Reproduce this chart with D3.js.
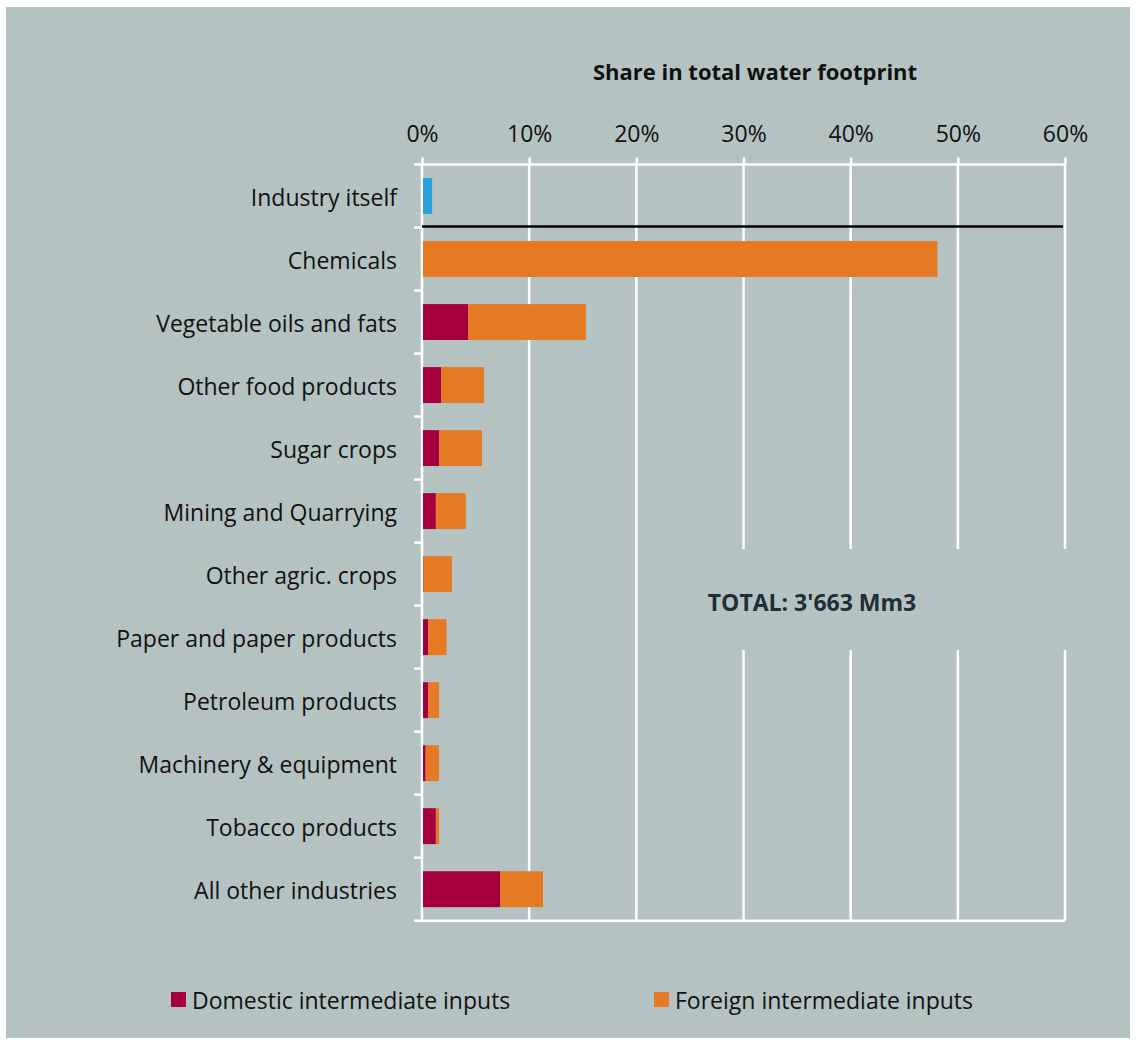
<!DOCTYPE html>
<html>
<head>
<meta charset="utf-8">
<script src="https://cdn.jsdelivr.net/npm/d3@7"></script>
<style>
  html, body { margin: 0; padding: 0; background: #ffffff; }
  svg { display: block; }
  text { font-family: "Open Sans", Lato, sans-serif; }
</style>
</head>
<body>
<svg id="chart" width="1136" height="1044"></svg>
<script>
// Categories (top to bottom)
const categories = [
  "Industry itself",
  "Chemicals",
  "Vegetable oils and fats",
  "Other food products",
  "Sugar crops",
  "Mining and Quarrying",
  "Other agric. crops",
  "Paper and paper products",
  "Petroleum products",
  "Machinery & equipment",
  "Tobacco products",
  "All other industries"
];

// Share of total water footprint (fractions)
const ownShare      = [0.0085, 0, 0, 0, 0, 0, 0, 0, 0, 0, 0, 0];
const domesticShare = [0, 0, 0.042, 0.017, 0.015, 0.012, 0.0005, 0.005, 0.005, 0.0025, 0.012, 0.072];
const foreignShare  = [0, 0.480, 0.110, 0.040, 0.040, 0.028, 0.0265, 0.017, 0.010, 0.0125, 0.003, 0.040];

const xTicks = [0, 0.1, 0.2, 0.3, 0.4, 0.5, 0.6];
const seriesNames = ["Domestic intermediate inputs", "Foreign intermediate inputs"];
const totalLabel = "TOTAL: 3'663 Mm3";
const axisTitle = "Share in total water footprint";

const colors = { own: "#29a3d8", domestic: "#a3003d", foreign: "#e67a24" };
const bg = "#b4c3c2";
const labelFont = "23px";

const svg = d3.select("#chart");

// panel background
svg.append("rect").attr("x", 6).attr("y", 7).attr("width", 1124).attr("height", 1031).attr("fill", bg);

const x = d3.scaleLinear().domain([0, 0.6]).range([422, 1065]);
const y = d3.scaleBand().domain(categories).range([164.5, 920.7]).paddingInner(0.43).paddingOuter(0.215);
const yEdges = d3.scaleBand().domain(categories).range([164.5, 920.7]);

// vertical gridlines
svg.append("g").selectAll("line").data(xTicks.slice(1)).join("line")
  .attr("x1", d => x(d)).attr("x2", d => x(d))
  .attr("y1", 164.5).attr("y2", 920.7)
  .attr("stroke", "#ffffff").attr("stroke-width", 2.5);

// bottom border line
svg.append("line").attr("x1", 414).attr("x2", x(0.6)).attr("y1", 920.7).attr("y2", 920.7)
  .attr("stroke", "#ffffff").attr("stroke-width", 2.5);

// top axis
const xAxis = d3.axisTop(x).tickValues(xTicks).tickFormat(d3.format(".0%")).tickSize(7).tickPadding(9);
const gx = svg.append("g").attr("transform", "translate(0,164.5)").call(xAxis);
gx.select(".domain").attr("stroke", "#ffffff").attr("stroke-width", 2.5).attr("d", `M414,0H${x(0.6)}`);
gx.selectAll(".tick line").attr("stroke", "#ffffff").attr("stroke-width", 2.5);
gx.selectAll(".tick text").attr("fill", "#111").style("font-size", labelFont).style("font-family", "'Open Sans', sans-serif")
  .attr("dy", "-0.3em");

// left axis: category labels with ticks on band edges
const yAxis = d3.axisLeft(y).tickSize(0).tickPadding(25);
const gy = svg.append("g").attr("transform", `translate(${x(0)},0)`).call(yAxis);
gy.select(".domain").attr("stroke", "#ffffff").attr("stroke-width", 2.5).attr("d", "M0,164.5V920.7");
gy.selectAll(".tick text").attr("fill", "#111").style("font-size", labelFont).style("font-family", "'Open Sans', sans-serif")
  .attr("dy", "0.42em");
svg.append("g").selectAll("line").data(categories.slice(1)).join("line")
  .attr("x1", 414).attr("x2", x(0))
  .attr("y1", d => yEdges(d)).attr("y2", d => yEdges(d))
  .attr("stroke", "#ffffff").attr("stroke-width", 2.5);

// box behind the total annotation
svg.append("rect").attr("x", 700).attr("y", 549).attr("width", 378).attr("height", 101).attr("fill", bg);
svg.append("text").attr("x", 812).attr("y", 611).attr("text-anchor", "middle")
  .attr("fill", "#1f2e37").style("font-size", "23px").style("font-weight", "bold").text(totalLabel);

// bars
const rows = categories.map((c, i) => ({ c, own: ownShare[i], dom: domesticShare[i], frn: foreignShare[i] }));
const bars = svg.append("g");
bars.selectAll("rect.own").data(rows.filter(r => r.own > 0)).join("rect")
  .attr("x", x(0) + 1).attr("y", d => y(d.c)).attr("height", y.bandwidth())
  .attr("width", d => x(d.own) - x(0)).attr("fill", colors.own);
bars.selectAll("rect.dom").data(rows.filter(r => r.dom > 0)).join("rect")
  .attr("x", x(0) + 1).attr("y", d => y(d.c)).attr("height", y.bandwidth())
  .attr("width", d => x(d.dom) - x(0)).attr("fill", colors.domestic);
bars.selectAll("rect.frn").data(rows.filter(r => r.frn > 0)).join("rect")
  .attr("x", d => x(d.dom) + 1).attr("y", d => y(d.c)).attr("height", y.bandwidth())
  .attr("width", d => x(d.dom + d.frn) - x(d.dom)).attr("fill", colors.foreign);

// separator between the industry's own use and its inputs
svg.append("line").attr("x1", x(0)).attr("x2", 1063)
  .attr("y1", yEdges(categories[1]) - 1).attr("y2", yEdges(categories[1]) - 1)
  .attr("stroke", "#000").attr("stroke-width", 2.5);

// axis title
svg.append("text").attr("x", 755).attr("y", 80).attr("text-anchor", "middle")
  .attr("fill", "#111").style("font-size", "22px").style("font-weight", "bold").text(axisTitle);

// legend
const legend = svg.append("g");
const legendItems = [
  { name: seriesNames[0], color: colors.domestic, x: 171 },
  { name: seriesNames[1], color: colors.foreign, x: 654 }
];
legendItems.forEach(it => {
  legend.append("rect").attr("x", it.x).attr("y", 992).attr("width", 15).attr("height", 15).attr("fill", it.color);
  legend.append("text").attr("x", it.x + 21).attr("y", 1009).attr("fill", "#111")
    .style("font-size", labelFont).text(it.name);
});
</script>
</body>
</html>
